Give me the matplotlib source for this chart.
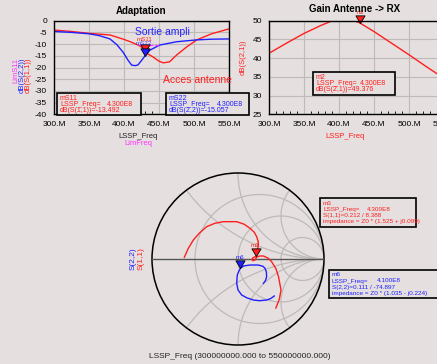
import matplotlib
matplotlib.use('Agg')
import matplotlib.pyplot as plt
from matplotlib.patches import Rectangle, Circle
from matplotlib.path import Path

# ---------------- data ----------------
freq_s11 = [300, 325, 350, 380, 400, 409, 420, 428, 430, 442, 450, 456, 465, 475, 490, 504, 525, 550]
db_s11 = [-4.0, -4.6, -5.4, -6.1, -8.0, -9.0, -10.4, -11.8, -13.49, -15.6, -17.3, -18.0, -17.6, -14.7, -11.1, -8.2, -5.6, -3.5]

freq_s22 = [300, 325, 350, 365, 380, 390, 399, 406, 411, 416, 420, 425, 430, 437, 451, 475, 504, 525, 550]
db_s22 = [-4.6, -5.0, -5.6, -6.4, -7.8, -10.3, -13.6, -17.0, -19.0, -19.2, -18.9, -17.0, -15.06, -12.6, -10.4, -9.0, -8.2, -7.9, -7.8]

lim_freq = [420, 450]
lim_s11 = [-10.5, -10.5]

freq_s21 = [300, 325, 350, 375, 390, 400, 410, 420, 430, 450, 475, 500, 525, 550]
db_s21 = [41.3, 44.0, 46.6, 48.8, 49.95, 50.2, 50.3, 50.1, 49.376, 47.1, 44.0, 40.9, 37.7, 34.6]

s11_re = [-0.624, -0.58, -0.52, -0.45, -0.364, -0.27, -0.17, -0.015, 0.07, 0.14, 0.19, 0.217, 0.236, 0.236, 0.225, 0.21,
          0.175, 0.16, 0.175, 0.2, 0.215, 0.25, 0.295, 0.35, 0.39, 0.44, 0.47, 0.50, 0.48, 0.44]
s11_im = [0.02, 0.12, 0.22, 0.30, 0.376, 0.415, 0.434, 0.434, 0.405, 0.357, 0.31, 0.26, 0.2, 0.163, 0.09, 0.031,
          0.015, -0.005, -0.02, -0.01, 0.02, 0.035, 0.035, 0.01, -0.03, -0.11, -0.2, -0.36, -0.47, -0.57]

s22_re = [0.422, 0.38, 0.333, 0.25, 0.178, 0.1, 0.043, 0.0, -0.015, -0.012, -0.008, 0.01, 0.029,
          0.07, 0.14, 0.236, 0.29, 0.314, 0.33, 0.333, 0.32, 0.295]
s22_im = [-0.43, -0.46, -0.477, -0.485, -0.477, -0.45, -0.419, -0.36, -0.283, -0.23, -0.186, -0.14, -0.107,
          -0.08, -0.07, -0.07, -0.085, -0.108, -0.15, -0.205, -0.25, -0.283]

m3_point = (0.2097, 0.0309)
m6_point = (0.029, -0.107)

x_ticks = [300, 350, 400, 450, 500, 550]
y_ticks_left = [0, -5, -10, -15, -20, -25, -30, -35, -40]
y_ticks_right = [25, 30, 35, 40, 45, 50]
r_circles = [1/3, 1.0, 3.0]
x_arcs = [0.5, 1.0, 2.0, -0.5, -1.0, -2.0]

# ---------------- style ----------------
W, H = 437, 364
BG = '#e5e0df'
RED = '#ff1e1e'
BLUE = '#2020ff'
MAG = '#ff33ff'
GRID = '#bdbaba'

plt.rcParams['font.family'] = ['Liberation Sans', 'DejaVu Sans']

fig = plt.figure(figsize=(W / 100, H / 100), dpi=100, facecolor=BG)


def ax_px(x0, y0, x1, y1):
    return fig.add_axes([x0 / W, 1 - y1 / H, (x1 - x0) / W, (y1 - y0) / H])


def fx(x):
    return x / W


def fy(y):
    return 1 - y / H


tri = Path([(0, 0), (-0.6, 1.0), (0.6, 1.0), (0, 0)],
           [Path.MOVETO, Path.LINETO, Path.LINETO, Path.CLOSEPOLY])


def style_rect(ax, yt):
    ax.set_facecolor(BG)
    ax.set_xlim(300, 550)
    ax.set_xticks(x_ticks)
    ax.set_xticklabels([f"{v}.M" for v in x_ticks])
    ax.set_xticks(range(300, 551, 10), minor=True)
    ax.set_yticks(yt)
    ax.set_yticklabels([str(v) for v in yt])
    ax.grid(True, which='major', color=GRID, lw=0.8)
    ax.tick_params(which='major', direction='in', length=0, labelsize=6, pad=5)
    ax.tick_params(which='minor', direction='in', length=2.5, width=0.6, bottom=True, left=False)
    for s in ax.spines.values():
        s.set_color('black')
        s.set_linewidth(1.0)
    ax.set_axisbelow(True)


# ---------- left plot ----------
ax1 = ax_px(54, 20.7, 229, 114.3)
style_rect(ax1, y_ticks_left)
ax1.set_ylim(-40, 0)
ax1.plot(freq_s11, db_s11, color=RED, lw=1.0)
ax1.plot(freq_s22, db_s22, color=BLUE, lw=1.0)
ax1.plot(lim_freq, lim_s11, color=MAG, lw=0.9, ls=(0, (3, 1.5)))
ax1.plot([430], [db_s11[freq_s11.index(430)]], marker=tri, ms=11, color=RED, mec='black', mew=0.6, ls='none')
ax1.plot([430], [db_s22[freq_s22.index(430)]], marker=tri, ms=11, color=BLUE, mec='black', mew=0.6, ls='none')
ax1.text(430, -9.3, "mS11", color=RED, fontsize=4.5, ha='center', va='bottom')
ax1.text(428, -10.6, "mS22", color=BLUE, fontsize=4.5, ha='center', va='bottom', alpha=0.8)
ax1.set_title("Adaptation", fontsize=7, fontweight='bold', pad=5)

fig.text(fx(162), fy(32), "Sortie ampli", color=BLUE, fontsize=7.5, ha='center', va='center')
fig.text(fx(163), fy(80), "Acces antenne", color=RED, fontsize=7.5, ha='left', va='center')
fig.text(fx(138), fy(137), "LSSP_Freq", color='#222222', fontsize=5.5, ha='center', va='center')
fig.text(fx(138), fy(144), "LimFreq", color=MAG, fontsize=5.5, ha='center', va='center')
fig.text(fx(16), fy(58), "LimS11", color=MAG, fontsize=5.5, rotation=90, ha='center', va='top')
fig.text(fx(22), fy(58), "dB(S(2,2))", color=BLUE, fontsize=5.5, rotation=90, ha='center', va='top')
fig.text(fx(28), fy(58), "dB(S(1,1))", color=RED, fontsize=5.5, rotation=90, ha='center', va='top')

# ---------- right plot ----------
ax2 = ax_px(269, 20.7, 444, 114.3)
style_rect(ax2, y_ticks_right)
ax2.set_ylim(25, 50)
ax2.plot(freq_s21, db_s21, color=RED, lw=1.0)
ax2.plot([430], [db_s21[freq_s21.index(430)]], marker=tri, ms=11, color=RED, mec='black', mew=0.6, ls='none', clip_on=False)
ax2.text(430, 51.5, "m2", color=RED, fontsize=4.0, ha='center', va='bottom')
fig.text(fx(355), fy(8.5), "Gain Antenne -> RX", fontsize=7, fontweight='bold', ha='center', va='center')
fig.text(fx(345), fy(137), "LSSP_Freq", color=RED, fontsize=5.5, ha='center', va='center')
fig.text(fx(243), fy(57), "dB(S(2,1))", color=RED, fontsize=5.5, rotation=90, ha='center', va='center')

# ---------- smith chart ----------
ax3 = ax_px(152, 173, 324, 345)
ax3.set_xlim(-1, 1)
ax3.set_ylim(-1, 1)
ax3.axis('off')
unit = Circle((0, 0), 1, transform=ax3.transData, facecolor='none', edgecolor='none')
ax3.add_patch(unit)
for r in r_circles:
    c = Circle((r / (1 + r), 0), 1 / (1 + r), fill=False, edgecolor=GRID, lw=0.9)
    ax3.add_patch(c)
    c.set_clip_path(unit)
for xv in x_arcs:
    c = Circle((1, 1 / xv), 1 / abs(xv), fill=False, edgecolor=GRID, lw=0.9)
    ax3.add_patch(c)
    c.set_clip_path(unit)
ax3.plot([-1, 1], [0, 0], color='#555555', lw=1.0)
ax3.add_patch(Circle((0, 0), 1, fill=False, edgecolor='black', lw=1.1, clip_on=False))
ax3.plot(s11_re, s11_im, color=RED, lw=1.0)
ax3.plot(s22_re, s22_im, color=BLUE, lw=1.0)
ax3.plot([m3_point[0]], [m3_point[1]], marker=tri, ms=11, color=RED, mec='black', mew=0.6, ls='none')
ax3.plot([m6_point[0]], [m6_point[1]], marker=tri, ms=11, color=BLUE, mec='black', mew=0.6, ls='none')
ax3.text(m3_point[0] - 0.01, m3_point[1] + 0.1, "m3", color=RED, fontsize=4.5, ha='center', va='bottom')
ax3.text(m6_point[0] - 0.01, m6_point[1] + 0.1, "m6", color=BLUE, fontsize=4.5, ha='center', va='bottom')
fig.text(fx(133), fy(259), "S(2,2)", color=BLUE, fontsize=6, rotation=90, ha='center', va='center')
fig.text(fx(141), fy(259), "S(1,1)", color=RED, fontsize=6, rotation=90, ha='center', va='center')
fig.text(fx(240), fy(357), "LSSP_Freq (300000000.000 to 550000000.000)", color='#222222', fontsize=6,
         ha='center', va='center')


# ---------- marker boxes ----------
def box(x0, y0, x1, y1, lines, color, valx=None, value=None, fs=4.8):
    fig.patches.append(Rectangle((fx(x0), fy(y1)), fx(x1 - x0), (y1 - y0) / H, transform=fig.transFigure,
                                 facecolor=BG, edgecolor='black', lw=1.2, zorder=2))
    n = len(lines)
    step = (y1 - y0 - 4) / n
    for i, t in enumerate(lines):
        yy = y0 + 2 + step * (i + 0.5)
        fig.text(fx(x0 + 3), fy(yy), t, color=color, fontsize=fs, ha='left', va='center', zorder=3)
        if i == 1 and value is not None:
            fig.text(fx(valx), fy(yy), value, color=color, fontsize=fs, ha='left', va='center', zorder=3)


box(57, 93, 141, 115, ["mS11", "LSSP_Freq=", "dB(S(1,1))=-13.492"], RED, 107, "4.300E8", 5.0)
box(166, 93, 249, 115, ["mS22", "LSSP_Freq=", "dB(S(2,2))=-15.057"], BLUE, 217, "4.300E8", 5.0)
box(313, 72, 395, 95, ["m2", "LSSP_Freq=", "dB(S(2,1))=49.376"], RED, 360, "4.300E8", 5.0)
box(320, 198, 416, 227, ["m3", "LSSP_Freq=", "S(1,1)=0.212 / 8.388", "impedance = Z0 * (1.525 + j0.099)"],
    RED, 367, "4.300E8", 4.6)
box(329, 270, 440, 298, ["m6", "LSSP_Freq=", "S(2,2)=0.111 / -74.897", "impedance = Z0 * (1.035 - j0.224)"],
    BLUE, 377, "4.100E8", 4.6)

fig.savefig("out.png", dpi=100, facecolor=BG)
